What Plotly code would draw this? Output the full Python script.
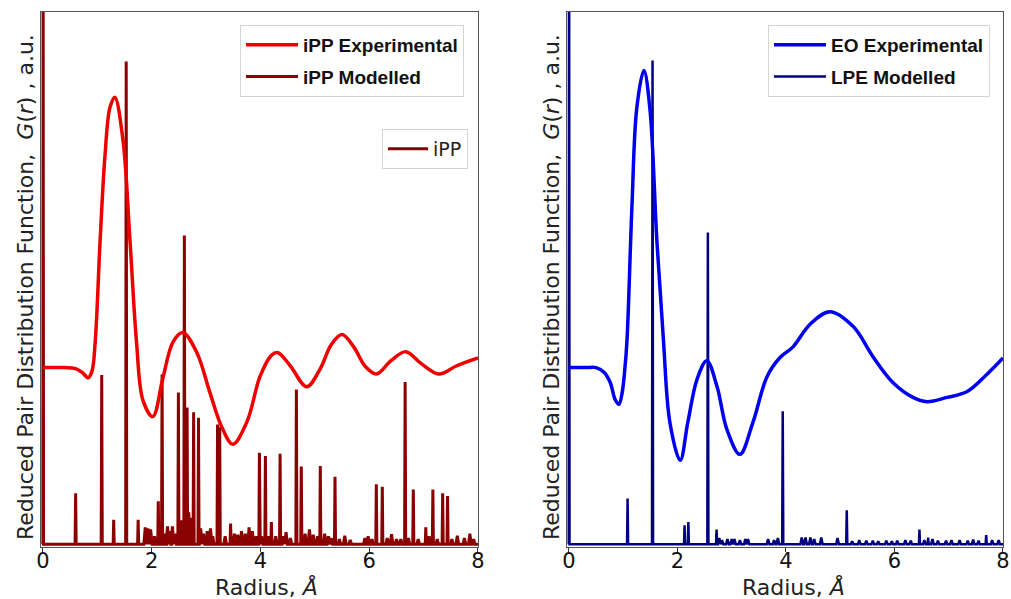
import plotly.graph_objects as go

# ---------------- data ----------------
tick_vals = [0, 2, 4, 6, 8]
tick_text = ["0", "2", "4", "6", "8"]

# iPP experimental G(r) (arbitrary units, offset)
ipp_exp_r = [0.0, 0.4, 0.6, 0.72, 0.83, 0.9, 0.96, 1.05, 1.14, 1.23, 1.32, 1.47, 1.6, 1.72, 1.84,
             2.02, 2.2, 2.39, 2.57, 2.83, 3.07, 3.29, 3.49, 3.75, 3.99, 4.2, 4.32, 4.55, 4.85,
             5.1, 5.3, 5.5, 5.72, 5.92, 6.13, 6.4, 6.67, 6.95, 7.28, 7.6, 8.0]
ipp_exp_g = [33.2, 33.2, 33.0, 32.3, 31.3, 32.5, 38.0, 57.0, 73.0, 82.0, 84.0, 76.0, 57.0, 38.0, 27.0,
             24.0, 31.0, 38.0, 39.8, 36.0, 28.5, 22.0, 18.8, 23.0, 31.5, 35.5, 36.0, 33.5, 29.6,
             33.0, 37.5, 39.4, 37.0, 33.5, 32.0, 34.5, 36.2, 34.0, 32.0, 33.5, 35.0]

# iPP modelled: sharp peaks (position, height)
ipp_peak_r = [0.0, 0.6, 1.08, 1.3, 1.53, 1.75, 2.12, 2.19, 2.49, 2.6, 2.65, 2.77, 2.86, 3.21, 3.25,
              3.45, 3.98, 4.09, 4.2, 4.36, 4.66, 4.75, 5.1, 5.37, 6.13, 6.24, 6.66, 6.81, 7.04,
              7.17, 7.35, 7.44]
ipp_peak_h = [150.0, 9.6, 31.8, 4.6, 90.7, 4.6, 8.1, 31.9, 28.5, 58.0, 25.7, 24.8, 23.8, 22.5, 22.0,
              3.9, 17.2, 16.6, 4.2, 17.0, 29.1, 14.6, 14.7, 12.7, 11.3, 10.8, 30.5, 10.3, 3.2,
              10.3, 9.6, 9.1]
# iPP modelled: small background features
ipp_bump_r = [1.88, 1.93, 1.98, 2.05, 2.25, 2.29, 2.34, 2.38, 2.43, 2.55, 2.68, 2.71, 2.74, 2.9,
              2.95, 3.02, 3.08, 3.12, 3.35, 3.52, 3.58, 3.65, 3.72, 3.79, 3.85, 3.92, 4.02, 4.14,
              4.28, 4.42, 4.47, 4.55, 4.82, 4.9, 4.97, 5.05, 5.18, 5.25, 5.3, 5.45, 5.55, 5.65,
              5.92, 5.98, 6.05, 6.33, 6.41, 6.5, 6.58, 6.72, 6.9, 7.1, 7.25, 7.52, 7.62, 7.75,
              7.85, 7.92]
ipp_bump_h = [3.2, 3.0, 2.8, 1.5, 2.0, 3.4, 2.5, 3.4, 2.0, 4.5, 6.0, 4.7, 5.0, 3.0,
              2.0, 2.5, 3.0, 1.5, 1.5, 2.0, 1.8, 2.5, 2.0, 3.2, 2.5, 1.5, 1.5, 1.5,
              1.5, 1.5, 2.3, 1.2, 2.0, 2.8, 1.8, 1.5, 2.0, 1.5, 1.2, 1.0, 1.6, 0.8,
              1.2, 1.5, 1.0, 1.2, 1.9, 1.0, 1.0, 1.2, 1.0, 1.5, 1.0, 1.0, 1.6, 1.2,
              2.0, 1.0]

# EO experimental G(r)
eo_exp_r = [0.0, 0.3, 0.5, 0.65, 0.76, 0.85, 0.92, 0.98, 1.03, 1.07, 1.16, 1.25, 1.38, 1.49, 1.62,
            1.74, 1.86, 2.05, 2.19, 2.36, 2.54, 2.73, 2.91, 3.15, 3.39, 3.65, 3.89, 4.13, 4.44,
            4.81, 5.24, 5.6, 5.97, 6.34, 6.6, 6.97, 7.34, 7.7, 8.0]
eo_exp_g = [33.2, 33.2, 33.2, 32.3, 30.4, 27.2, 26.3, 28.5, 33.0, 38.5, 63.4, 82.0, 89.0, 82.0, 57.0,
            38.5, 22.9, 15.8, 22.9, 31.0, 34.5, 29.6, 21.6, 16.9, 22.9, 31.5, 35.1, 37.1, 41.3,
            43.7, 40.9, 35.3, 30.4, 27.6, 26.8, 27.6, 28.7, 31.9, 35.0]

# LPE modelled: sharp peaks
lpe_peak_r = [0.0, 1.08, 1.54, 2.13, 2.2, 2.56, 2.72, 3.94, 5.12, 6.46, 6.62, 7.69]
lpe_peak_h = [150.0, 8.6, 90.9, 3.6, 4.2, 58.6, 2.8, 25.0, 6.4, 2.8, 1.25, 1.75]
# LPE modelled: small background features
lpe_bump_r = [2.77, 2.82, 2.92, 3.0, 3.05, 3.15, 3.25, 3.3, 3.67, 3.78, 3.85, 4.29, 4.36, 4.45,
              4.52, 4.65, 4.95, 5.22, 5.35, 5.48, 5.6, 5.7, 5.85, 5.95, 6.05, 6.2, 6.3, 6.55,
              6.7, 6.8, 6.95, 7.05, 7.2, 7.35, 7.45, 7.55, 7.8, 7.92]
lpe_bump_h = [1.2, 0.8, 1.0, 1.0, 1.0, 0.8, 1.0, 1.0, 1.0, 0.8, 1.2, 1.3, 1.3, 1.3,
              1.0, 1.3, 1.2, 0.6, 0.8, 0.7, 0.7, 0.6, 0.7, 0.6, 0.7, 0.8, 0.7, 0.8,
              1.0, 0.7, 0.7, 0.8, 0.8, 0.7, 0.9, 0.7, 0.8, 0.8]

# ---------------- styles ----------------
RED = "#ee0000"
DARKRED = "#8b0000"
BLUE = "#0000ee"
NAVY = "#000080"
W, H = 1011, 599


def stick_series(peak_r, peak_h, bump_r, bump_h, rmax=8.0):
    items = [(r, h, 0.01) for r, h in zip(peak_r, peak_h)]
    items += [(r, h, 0.025) for r, h in zip(bump_r, bump_h)]
    items.sort()
    xs, ys = [], []
    for r, h, hw in items:
        xs += [r - hw, r, r + hw]
        ys += [0.0, h, 0.0]
    xs.append(rmax)
    ys.append(0.0)
    return xs, ys


fig = go.Figure()

mx, my = stick_series(ipp_peak_r, ipp_peak_h, ipp_bump_r, ipp_bump_h)
fig.add_trace(go.Scatter(x=mx, y=my, mode="lines", line=dict(color=DARKRED, width=3),
                         name="<b>iPP Modelled</b>", legend="legend", legendgroup="b",
                         legendrank=2, xaxis="x", yaxis="y"))
fig.add_trace(go.Scatter(x=ipp_exp_r, y=ipp_exp_g, mode="lines",
                         line=dict(color=RED, width=3.5, shape="spline", smoothing=1.0),
                         name="<b>iPP Experimental</b>", legend="legend", legendgroup="a",
                         legendrank=1, xaxis="x", yaxis="y"))
fig.add_trace(go.Scatter(x=[None], y=[None], mode="lines", line=dict(color=DARKRED, width=3),
                         name="iPP", legend="legend2", xaxis="x", yaxis="y"))

lx, ly = stick_series(lpe_peak_r, lpe_peak_h, lpe_bump_r, lpe_bump_h)
fig.add_trace(go.Scatter(x=lx, y=ly, mode="lines", line=dict(color=NAVY, width=2.5),
                         name="<b>LPE Modelled</b>", legend="legend3", legendgroup="d",
                         legendrank=2, xaxis="x2", yaxis="y2"))
fig.add_trace(go.Scatter(x=eo_exp_r, y=eo_exp_g, mode="lines",
                         line=dict(color=BLUE, width=3.5, shape="spline", smoothing=1.0),
                         name="<b>EO Experimental</b>", legend="legend3", legendgroup="c",
                         legendrank=1, xaxis="x2", yaxis="y2"))

xr = [-0.03, 8.0]
px_per = (478 - 43) / 8.0
left_x0 = 43 + xr[0] * px_per
right_x0 = 569 + xr[0] * px_per
ydom = [1 - 547 / H, 1 - 12 / H]

xcommon = dict(range=xr, tickvals=tick_vals, ticktext=tick_text, ticks="outside", ticklen=4,
               tickwidth=1, tickcolor="#333", showline=True, mirror=True, linecolor="#555",
               linewidth=1, showgrid=False, zeroline=False, layer="below traces",
               ticklabelstandoff=-9,
               tickfont=dict(family="DejaVu Sans", size=21, color="#111"), automargin=False)
ycommon = dict(range=[-0.5, 100], showticklabels=False, ticks="", showline=True, mirror=True,
               linecolor="#555", linewidth=1, showgrid=False, zeroline=False,
               layer="below traces", automargin=False)

legend_common = dict(bgcolor="white", bordercolor="#d4d4d4", borderwidth=1,
                     xref="paper", yref="paper", xanchor="left", yanchor="top",
                     orientation="v")

ytitle = "Reduced Pair Distribution Function,  <i>G</i>(<i>r</i>) , a.u."
xtitle = "Radius, <i>Å</i>"

fig.update_layout(
    width=W, height=H, margin=dict(l=0, r=0, t=0, b=0),
    paper_bgcolor="white", plot_bgcolor="white",
    xaxis=dict(domain=[left_x0 / W, 478 / W], anchor="y", **xcommon),
    yaxis=dict(domain=ydom, anchor="x", **ycommon),
    xaxis2=dict(domain=[right_x0 / W, 1003 / W], anchor="y2", **xcommon),
    yaxis2=dict(domain=ydom, anchor="x2", **ycommon),
    legend=dict(x=240 / W, y=1 - 25 / H, tracegroupgap=4, itemwidth=52,
                font=dict(family="Liberation Sans", size=19, color="#111"), **legend_common),
    legend2=dict(x=382 / W, y=1 - 129 / H, itemwidth=40,
                 font=dict(family="DejaVu Sans", size=19, color="#222"), **legend_common),
    legend3=dict(x=768 / W, y=1 - 25 / H, tracegroupgap=4, itemwidth=52,
                 font=dict(family="Liberation Sans", size=19, color="#111"), **legend_common),
    annotations=[
        dict(text=ytitle, xref="paper", yref="paper", x=25 / W, y=1 - 287 / H, textangle=-90,
             showarrow=False, xanchor="center", yanchor="middle",
             font=dict(family="DejaVu Sans", size=22, color="#222")),
        dict(text=ytitle, xref="paper", yref="paper", x=551 / W, y=1 - 287 / H, textangle=-90,
             showarrow=False, xanchor="center", yanchor="middle",
             font=dict(family="DejaVu Sans", size=22, color="#222")),
        dict(text=xtitle, xref="paper", yref="paper", x=266 / W, y=1 - 587 / H,
             showarrow=False, xanchor="center", yanchor="middle",
             font=dict(family="DejaVu Sans", size=22, color="#222")),
        dict(text=xtitle, xref="paper", yref="paper", x=793 / W, y=1 - 587 / H,
             showarrow=False, xanchor="center", yanchor="middle",
             font=dict(family="DejaVu Sans", size=22, color="#222")),
    ],
)

fig.write_html("out.html", config={"displayModeBar": False},
               post_script="document.body.style.margin='0px';")
